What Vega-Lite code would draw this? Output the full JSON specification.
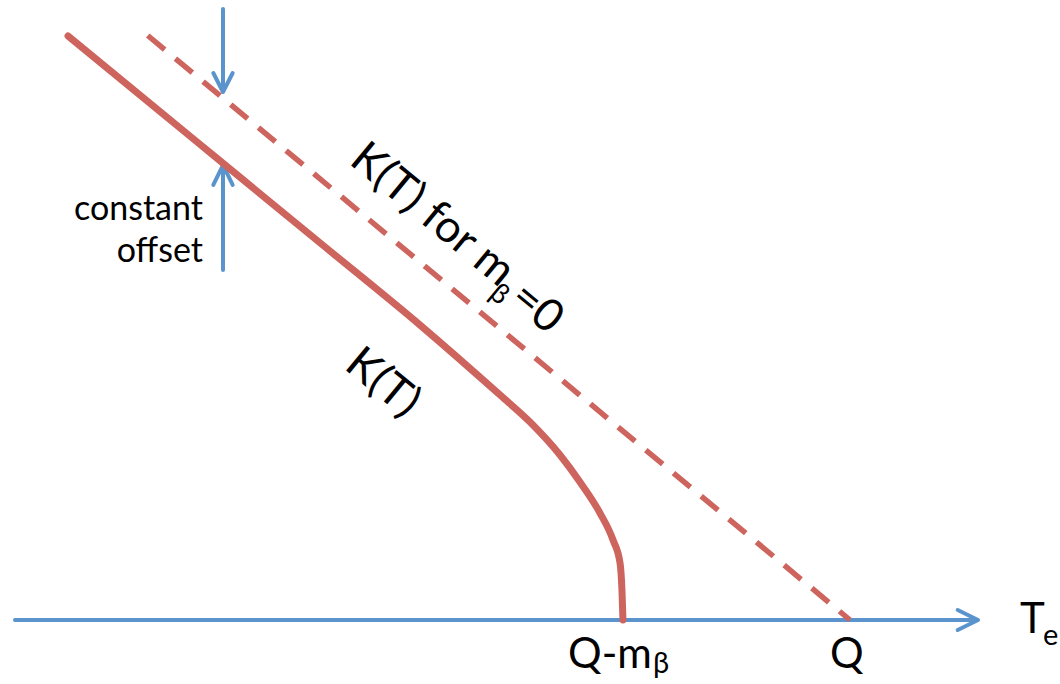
{
  "$schema": "https://vega.github.io/schema/vega-lite/v6.json",
  "width": 1060,
  "height": 684,
  "padding": 0,
  "autosize": {"type": "fit", "contains": "padding"},
  "background": "white",
  "config": {"view": {"stroke": null}, "text": {"font": "Lato", "color": "black"}},
  "datasets": {
    "kurie": [
      {"T": 0.635, "K": 6.994},
      {"T": 2.455, "K": 5.5},
      {"T": 3.65, "K": 4.519},
      {"T": 4.85, "K": 3.533},
      {"T": 5.808, "K": 2.695},
      {"T": 6.168, "K": 2.371},
      {"T": 6.527, "K": 1.976},
      {"T": 6.766, "K": 1.653},
      {"T": 7.006, "K": 1.281},
      {"T": 7.162, "K": 0.958},
      {"T": 7.246, "K": 0.683},
      {"T": 7.269, "K": 0.359},
      {"T": 7.281, "K": 0.0}
    ],
    "massless": [
      {"T": 1.59, "K": 7.0},
      {"T": 10.0, "K": 0.0}
    ],
    "arrows": [
      {"seg": "axis", "i": 0, "T": 0.0, "K": 0.0},
      {"seg": "axis", "i": 1, "T": 11.52, "K": 0.0},
      {"seg": "axisHead", "i": 0, "T": 11.29, "K": 0.12},
      {"seg": "axisHead", "i": 1, "T": 11.533, "K": 0.0},
      {"seg": "axisHead", "i": 2, "T": 11.29, "K": -0.12},
      {"seg": "down", "i": 0, "T": 2.491, "K": 7.317},
      {"seg": "down", "i": 1, "T": 2.491, "K": 6.34},
      {"seg": "downHead", "i": 0, "T": 2.375, "K": 6.551},
      {"seg": "downHead", "i": 1, "T": 2.491, "K": 6.323},
      {"seg": "downHead", "i": 2, "T": 2.607, "K": 6.551},
      {"seg": "up", "i": 0, "T": 2.491, "K": 4.192},
      {"seg": "up", "i": 1, "T": 2.491, "K": 5.43},
      {"seg": "upHead", "i": 0, "T": 2.375, "K": 5.21},
      {"seg": "upHead", "i": 1, "T": 2.491, "K": 5.449},
      {"seg": "upHead", "i": 2, "T": 2.607, "K": 5.21}
    ],
    "note": [
      {"T": 2.251, "K": 4.79, "label": "constant"},
      {"T": 2.251, "K": 4.287, "label": "offset"}
    ],
    "slanted": [
      {"T": 3.988, "K": 5.473, "label": "K(T) for m"},
      {"T": 5.904, "K": 3.808, "label": "=0"},
      {"T": 3.928, "K": 3.018, "label": "K(T)"}
    ],
    "slantedSub": [
      {"T": 5.665, "K": 3.88, "label": "β"}
    ],
    "axisText": [
      {"T": 6.623, "K": -0.575, "label": "Q-m"},
      {"T": 9.76, "K": -0.575, "label": "Q"},
      {"T": 12.036, "K": -0.156, "label": "T"}
    ],
    "axisSub": [
      {"T": 7.641, "K": -0.635, "label": "β"},
      {"T": 12.311, "K": -0.299, "label": "e"}
    ]
  },
  "encoding": {
    "x": {"field": "T", "type": "quantitative", "axis": null,
          "scale": {"domain": [-0.1796, 12.515], "nice": false, "zero": false}},
    "y": {"field": "K", "type": "quantitative", "axis": null,
          "scale": {"domain": [-0.7665, 7.4251], "nice": false, "zero": false}}
  },
  "layer": [
    {
      "data": {"name": "arrows"},
      "mark": {"type": "line", "color": "#5b94cc", "strokeWidth": 4, "strokeCap": "round", "strokeJoin": "round"},
      "encoding": {"detail": {"field": "seg"}, "order": {"field": "i", "type": "quantitative"}}
    },
    {
      "data": {"name": "massless"},
      "mark": {"type": "line", "color": "#cd655e", "strokeWidth": 5.5, "strokeDash": [22, 14]},
      "encoding": {}
    },
    {
      "data": {"name": "kurie"},
      "mark": {"type": "line", "color": "#cd655e", "strokeWidth": 7, "strokeCap": "round", "interpolate": "monotone"},
      "encoding": {}
    },
    {
      "data": {"name": "note"},
      "mark": {"type": "text", "align": "right", "baseline": "alphabetic", "fontSize": 34},
      "encoding": {"text": {"field": "label"}}
    },
    {
      "data": {"name": "slanted"},
      "mark": {"type": "text", "align": "left", "baseline": "alphabetic", "fontSize": 45, "angle": 39.5},
      "encoding": {"text": {"field": "label"}}
    },
    {
      "data": {"name": "slantedSub"},
      "mark": {"type": "text", "align": "left", "baseline": "alphabetic", "fontSize": 28, "angle": 39.5},
      "encoding": {"text": {"field": "label"}}
    },
    {
      "data": {"name": "axisText"},
      "mark": {"type": "text", "align": "left", "baseline": "alphabetic", "fontSize": 42},
      "encoding": {"text": {"field": "label"}}
    },
    {
      "data": {"name": "axisSub"},
      "mark": {"type": "text", "align": "left", "baseline": "alphabetic", "fontSize": 29},
      "encoding": {"text": {"field": "label"}}
    }
  ]
}
